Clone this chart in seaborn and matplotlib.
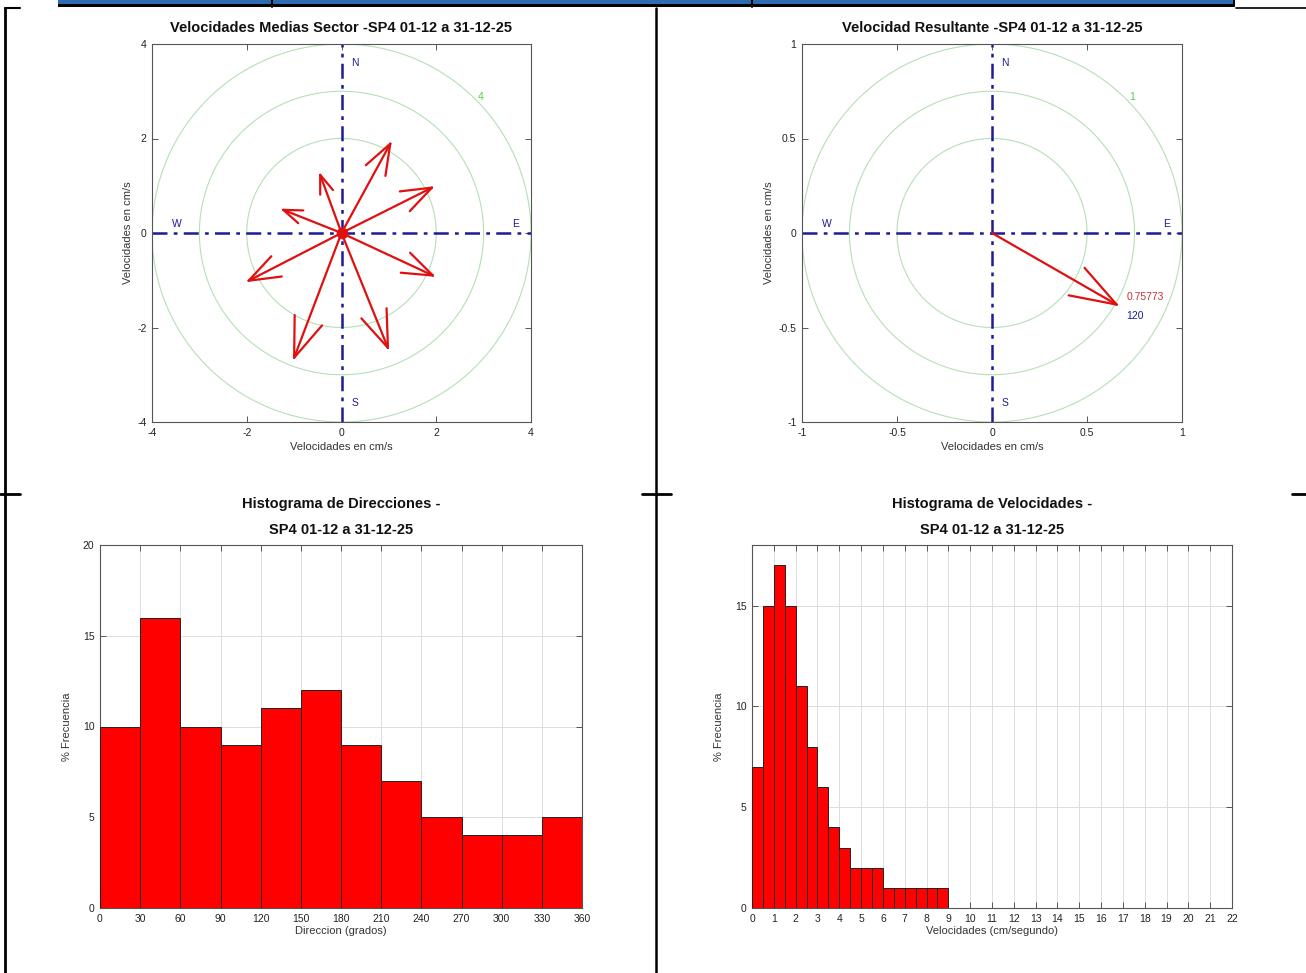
import numpy as np
import pandas as pd
import matplotlib
matplotlib.use("Agg")
import matplotlib.pyplot as plt
from matplotlib.lines import Line2D
from matplotlib.patches import Rectangle
import seaborn as sns

# ---------------- data ----------------
# sector mean velocity vectors (cm/s): east (u) and north (v) components
sector_u = [1.03, 1.91, 1.93, 0.98, -1.00, -1.96, -1.23, -0.45]
sector_v = [1.89, 0.96, -0.90, -2.43, -2.64, -1.01, 0.49, 1.23]

# resultant velocity
res_speed = 0.75773
res_dir = 120  # degrees from north

# direction histogram
dir_edges = [0, 30, 60, 90, 120, 150, 180, 210, 240, 270, 300, 330, 360]
dir_freq = [10, 16, 10, 9, 11, 12, 9, 7, 5, 4, 4, 5]

# speed histogram
spd_edges = [0, 0.5, 1, 1.5, 2, 2.5, 3, 3.5, 4, 4.5, 5, 5.5, 6, 6.5, 7, 7.5, 8, 8.5, 9]
spd_freq = [7, 15, 17, 15, 11, 8, 6, 4, 3, 2, 2, 2, 1, 1, 1, 1, 1, 1]

title_tl = "Velocidades Medias Sector -SP4 01-12 a 31-12-25"
title_tr = "Velocidad Resultante -SP4 01-12 a 31-12-25"
title_bl = "Histograma de Direcciones -\nSP4 01-12 a 31-12-25"
title_br = "Histograma de Velocidades -\nSP4 01-12 a 31-12-25"

# ---------------- style ----------------
sns.set_theme(style="white")
plt.rcParams['font.family'] = ['Liberation Sans', 'DejaVu Sans']

W, H = 1306, 973
fig = plt.figure(figsize=(W / 100, H / 100), dpi=100)

def ax_at(x0, y0, x1, y1):
    return fig.add_axes([x0 / W, 1 - y1 / H, (x1 - x0) / W, (y1 - y0) / H])

SPINE = '#555555'
NAVY = '#1c1c96'
ARROW = '#e01010'
CIRC = '#b5e0b5'
TICKFS = 7.5

def style_axes(ax):
    for s in ax.spines.values():
        s.set_visible(True)
        s.set_color(SPINE)
        s.set_linewidth(0.8)
    ax.tick_params(direction='in', length=4, width=0.7, color=SPINE,
                   labelsize=TICKFS, labelcolor='#222222',
                   top=True, right=True, bottom=True, left=True, pad=4)

def draw_arrow(ax, u, v, frac=0.33, ang=20):
    ax.plot([0, u], [0, v], color=ARROW, lw=1.6, solid_capstyle='round', zorder=5)
    L = np.hypot(u, v)
    th = np.arctan2(v, u)
    for s in (1, -1):
        a = th + np.pi + s * np.deg2rad(ang)
        ax.plot([u, u + frac * L * np.cos(a)], [v, v + frac * L * np.sin(a)],
                color=ARROW, lw=1.6, solid_capstyle='round', zorder=5)

def compass_frame(ax, rmax, radii, label, ticks, ticklabels):
    t = np.linspace(0, 2 * np.pi, 400)
    for r in radii:
        ax.plot(r * np.cos(t), r * np.sin(t), color=CIRC, lw=0.8, zorder=1)
    ax.plot([-rmax, rmax], [0, 0], color=NAVY, lw=1.8, ls=(0, (6, 2.5, 1.5, 2.5)), zorder=2)
    ax.plot([0, 0], [-rmax, rmax], color=NAVY, lw=1.8, ls=(0, (6, 2.5, 1.5, 2.5)), zorder=2)
    c = np.cos(np.pi / 4) * rmax * 1.02
    ax.text(c, c, label, color='#55cc55', fontsize=7.5, ha='left', va='center')
    fs = 7.5
    ax.text(0.07 * rmax, 0.90 * rmax, 'N', color=NAVY, fontsize=fs, ha='center', va='center')
    ax.text(0.07 * rmax, -0.90 * rmax, 'S', color=NAVY, fontsize=fs, ha='center', va='center')
    ax.text(-0.87 * rmax, 0.05 * rmax, 'W', color=NAVY, fontsize=fs, ha='center', va='center')
    ax.text(0.92 * rmax, 0.05 * rmax, 'E', color=NAVY, fontsize=fs, ha='center', va='center')
    ax.set_xlim(-rmax, rmax)
    ax.set_ylim(-rmax, rmax)
    ax.set_xticks(ticks)
    ax.set_yticks(ticks)
    ax.set_xticklabels(ticklabels)
    ax.set_yticklabels(ticklabels)
    ax.set_xlabel("Velocidades en cm/s", fontsize=8, color='#333333', labelpad=3)
    ax.set_ylabel("Velocidades en cm/s", fontsize=8, color='#333333', labelpad=3)
    style_axes(ax)

TITLE_KW = dict(fontsize=10.5, fontweight='bold', color='#111111')

# ---- top-left: sector mean velocities ----
ax1 = ax_at(152, 44, 531, 422)
compass_frame(ax1, 4, [2, 3, 4], '4', [-4, -2, 0, 2, 4], ['-4', '-2', '0', '2', '4'])
for u, v in zip(sector_u, sector_v):
    draw_arrow(ax1, u, v, frac=0.32, ang=20)
sns.scatterplot(x=[0], y=[0], ax=ax1, color=ARROW, s=60, edgecolor=ARROW, zorder=6, legend=False)
ax1.set_title(title_tl, pad=9, **TITLE_KW)

# ---- top-right: resultant velocity ----
ax2 = ax_at(802, 44, 1182, 422)
compass_frame(ax2, 1, [0.5, 0.75, 1], '1', [-1, -0.5, 0, 0.5, 1], ['-1', '-0.5', '0', '0.5', '1'])
ru = res_speed * np.sin(np.deg2rad(res_dir))
rv = res_speed * np.cos(np.deg2rad(res_dir))
draw_arrow(ax2, ru, rv, frac=0.34, ang=19)
ax2.text(ru + 0.05, rv + 0.04, f"{res_speed}", color='#cc3333', fontsize=7.5, ha='left', va='center')
ax2.text(ru + 0.05, rv - 0.06, f"{res_dir}", color=NAVY, fontsize=7.5, ha='left', va='center')
ax2.set_title(title_tr, pad=9, **TITLE_KW)

# ---- bottom-left: direction histogram ----
ax3 = ax_at(100, 545, 582, 908)
dir_centers = [(a + b) / 2 for a, b in zip(dir_edges[:-1], dir_edges[1:])]
sns.histplot(x=dir_centers, weights=dir_freq, bins=dir_edges, ax=ax3,
             color='#ff0000', edgecolor='#222222', linewidth=0.7, alpha=1, zorder=3)
ax3.set_xlim(0, 360)
ax3.set_ylim(0, 20)
ax3.set_xticks(dir_edges)
ax3.set_yticks([0, 5, 10, 15, 20])
ax3.grid(True, color='#dddddd', lw=0.7, zorder=0)
ax3.set_axisbelow(True)
ax3.set_xlabel("Direccion (grados)", fontsize=8, color='#333333', labelpad=2)
ax3.set_ylabel("% Frecuencia", fontsize=8, color='#333333', labelpad=8)
style_axes(ax3)
ax3.set_title(title_bl, pad=8, linespacing=2.1, **TITLE_KW)

# ---- bottom-right: speed histogram ----
ax4 = ax_at(752, 545, 1232, 908)
spd_centers = [(a + b) / 2 for a, b in zip(spd_edges[:-1], spd_edges[1:])]
sns.histplot(x=spd_centers, weights=spd_freq, bins=spd_edges, ax=ax4,
             color='#ff0000', edgecolor='#222222', linewidth=0.7, alpha=1, zorder=3)
ax4.set_xlim(0, 22)
ax4.set_ylim(0, 18)
ax4.set_xticks(range(0, 23))
ax4.set_yticks([0, 5, 10, 15])
ax4.grid(True, color='#dddddd', lw=0.7, zorder=0)
ax4.set_axisbelow(True)
ax4.set_xlabel("Velocidades (cm/segundo)", fontsize=8, color='#333333', labelpad=2)
ax4.set_ylabel("% Frecuencia", fontsize=8, color='#333333', labelpad=8)
style_axes(ax4)
ax4.set_title(title_br, pad=8, linespacing=2.1, **TITLE_KW)

# ---------------- page decorations (document table) ----------------
def fx(x):
    return x / W

def fy(y):
    return 1 - y / H

def hline(x0, x1, y, lw=1.5, color='black'):
    fig.add_artist(Line2D([fx(x0), fx(x1)], [fy(y), fy(y)], color=color, lw=lw))

def vline(x, y0, y1, lw=1.5, color='black'):
    fig.add_artist(Line2D([fx(x), fx(x)], [fy(y0), fy(y1)], color=color, lw=lw))

fig.add_artist(Rectangle((fx(58), fy(7)), fx(1235) - fx(58), (7) / H,
                         facecolor='black', edgecolor='none'))
fig.add_artist(Rectangle((fx(58), fy(3.5)), fx(1233) - fx(58), 3.5 / H,
                         facecolor='#2f6db3', edgecolor='none'))
for xd in (272, 752):
    vline(xd, 0, 7, lw=1.5)
hline(5, 20, 8, lw=1.5)
vline(5, 8, 973, lw=2)
vline(656, 8, 973, lw=1.8)
hline(1236, 1306, 7.5, lw=1.2)
hline(0, 20, 494, lw=2)
hline(642, 671, 494, lw=2)
hline(1292, 1306, 494, lw=2)

fig.savefig("out.png", dpi=100)
